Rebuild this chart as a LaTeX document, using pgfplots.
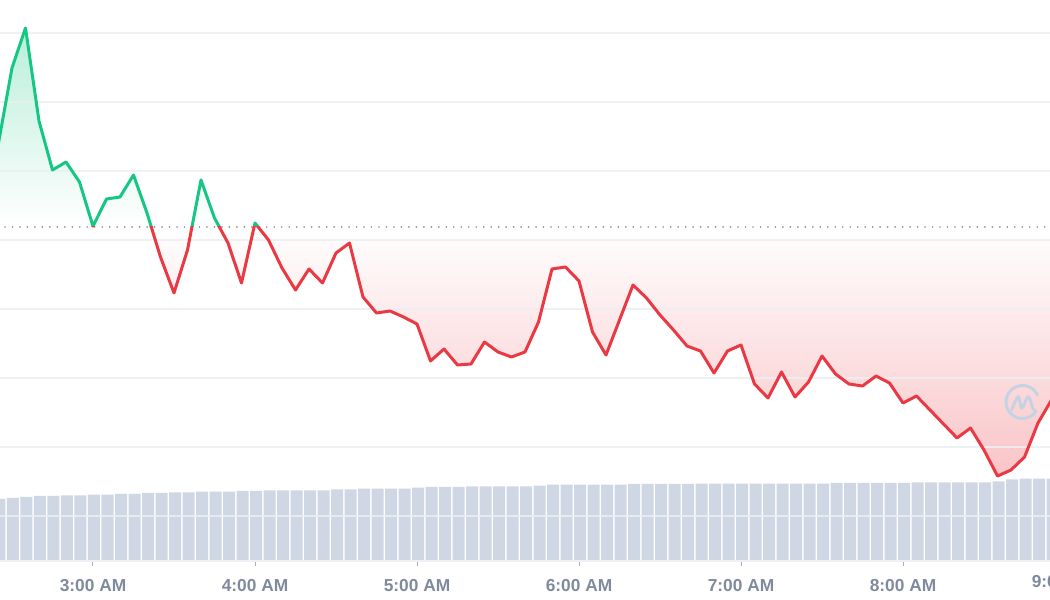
\documentclass[border=0pt]{standalone}
\usepackage{fontspec}
\setmainfont{Liberation Sans}
\usepackage{pgfplots}
\usepackage{pgfplotstable}
\pgfplotsset{compat=1.18}

\definecolor{cmcgreen}{RGB}{22,199,132}
\definecolor{cmcred}{RGB}{234,57,67}
\definecolor{greenfill}{RGB}{185,238,218}
\definecolor{redfill}{RGB}{249,196,199}
\definecolor{volbar}{RGB}{207,214,228}
\definecolor{gridc}{RGB}{236,239,243}
\definecolor{ticklab}{RGB}{128,138,157}
\definecolor{tickc}{RGB}{165,172,185}
\definecolor{dotc}{RGB}{140,146,154}
\definecolor{logoc}{RGB}{196,210,228}

% vertical fade: white up to the reference level, green at the top of the box
\pgfdeclareverticalshading{greenfade}{100bp}{color(0bp)=(white); color(56.3bp)=(white); color(75bp)=(greenfill); color(100bp)=(greenfill)}

% t = minutes after 3:00 AM, price in chart units, vol = volume in chart units
\pgfplotstableread{
t price vol
-35 417 61
-30 492 62
-25 532 63
-20 439 64
-15 390 64
-10 398 64.7
-5 378 64.7
0 333.8 65.3
5 361 65.3
10 363 66
15 385 66
20 347 67
25 303 67
30 267 67.7
35 310 67.7
40 380 68.3
45 342 68.3
50 317 68.3
55 277 69
60 337 69
65 320 69.7
70 292 69.7
75 270 69.7
80 291 69.7
85 277 69.7
90 307 70.7
95 317 70.7
100 263 71.3
105 247 71.3
110 249 71.3
115 243 71.3
120 236 72.3
125 199 73
130 211 73
135 195 73
140 196 73.7
145 218 73.7
150 208 73.7
155 203 73.7
160 208 73.7
165 238 74.3
170 291 75.3
175 293 75.3
180 279 75.3
185 228 75.3
190 205 75.3
195 240 75.3
200 275 76
205 262 76
210 245 76
215 230 76
220 214 76
225 209 76.3
230 187 76.3
235 209 76.3
240 215 76.3
245 176 76.3
250 162 76.3
255 188 76.3
260 163 76.3
265 178 76.3
270 204 76.3
275 186 77
280 176 77
285 174 77
290 184 77
295 177 77
300 157 77
305 164 77.7
310 150 77.7
315 136 77.7
320 122 77.7
325 132 77.7
330 110 77.7
335 84 78.7
340 90 80.7
345 103 81.3
350 137 81.3
355 160 81.3
}\data

\begin{document}
\begin{tikzpicture}
\begin{axis}[
  scale only axis,
  width=787.5pt, height=421.5pt,
  xmin=-34.444, xmax=354.444,
  ymin=-2, ymax=560,
  axis line style={draw=none},
  ytick=\empty,
  xtick={0,60,120,180,240,300},
  xticklabels={3:00 AM,4:00 AM,5:00 AM,6:00 AM,7:00 AM,8:00 AM},
  xtick pos=bottom,
  tick align=outside,
  major tick length=3pt,
  xtick style={draw=tickc, line width=0.75pt},
  xticklabel style={font=\bfseries\fontsize{13}{15}\selectfont, text=ticklab, anchor=base, yshift=-19.5pt},
]
% green area: under the price line, above the reference level
\begin{scope}
\clip (axis cs:-40,333.3) rectangle (axis cs:360,600);
\addplot[draw=none, shade, shading=greenfade] table[x=t, y=price] {\data} \closedcycle;
\end{scope}

% red area: below the reference level, above the price line
\path[top color=white, bottom color=redfill] (axis cs:-40,84) rectangle (axis cs:360,333.3);
\begin{scope}
\clip (axis cs:-40,-10) rectangle (axis cs:360,333.3);
\addplot[draw=none, fill=white] table[x=t, y=price] {\data} \closedcycle;
\end{scope}

% volume bars
\addplot[ybar, bar width=9pt, bar shift=0.75pt, fill=volbar, draw=none] table[x=t, y=vol] {\data};

% grid lines
\foreach \g in {527,458,389,320,251,182,113,44,-1} {
  \edef\temp{\noexpand\draw[gridc, line width=0.8pt, opacity=0.85] (axis cs:-40,\g) -- (axis cs:360,\g);}
  \temp
}

% dotted reference line
\draw[dotc, line width=1.35pt, line cap=round, dash pattern=on 0.01pt off 5.6pt]
  (axis cs:-32.6,333.3) -- (axis cs:360,333.3);

% price line, green above the reference, red below
\begin{scope}
\clip (axis cs:-40,333.3) rectangle (axis cs:360,600);
\addplot[cmcgreen, line width=2.25pt, line join=round] table[x=t, y=price] {\data};
\end{scope}
\begin{scope}
\clip (axis cs:-40,-10) rectangle (axis cs:360,333.3);
\addplot[cmcred, line width=2.25pt, line join=round] table[x=t, y=price] {\data};
\end{scope}

\coordinate (bbl) at (axis cs:-34.444,-40);
\coordinate (btr) at (axis cs:354.444,560);
\coordinate (nine) at (axis cs:360,-2);
\coordinate (logo) at (axis cs:344.26,158);
\end{axis}

\node[font=\bfseries\fontsize{13}{15}\selectfont, text=ticklab, anchor=base] at ([yshift=-19.5pt]nine) {9:00 AM};

% watermark logo
\begin{scope}[shift={(logo)}, x=0.75pt, y=0.75pt]
\draw[logoc, line width=2.2pt, line cap=round] (25:16.5) arc[start angle=25, end angle=325, radius=16.5];
\draw[logoc, line width=2.2pt, line cap=round, line join=round]
  plot[smooth, tension=0.6] coordinates {(-10.8,-8) (-4.2,5.3) (-0.8,-6.3) (5.8,5.3) (10.2,-6.3) (13.5,-9.5)};
\end{scope}

\pgfresetboundingbox
\useasboundingbox (bbl) rectangle (btr);
\end{tikzpicture}
\end{document}
